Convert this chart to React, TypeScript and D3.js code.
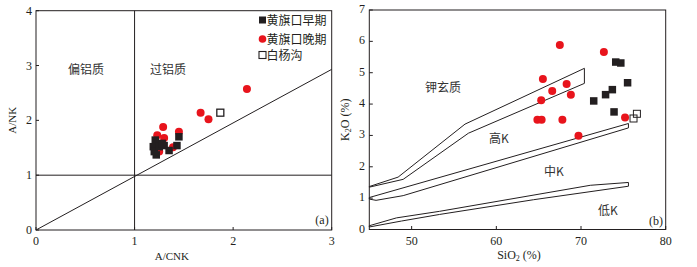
import React from "react";
import * as d3 from "d3";

// ---------- Panel (a) data ----------
const aEarly: [number, number][] = [
  [1.45, 1.7], [1.43, 1.54], [1.35, 1.45], [1.3, 1.54], [1.22, 1.37],
  [1.19, 1.52], [1.2, 1.43], [1.21, 1.64], [1.25, 1.52], [1.28, 1.58],
];
const aLate: [number, number][] = [
  [2.14, 2.57], [1.67, 2.14], [1.75, 2.02], [1.29, 1.88], [1.23, 1.73],
  [1.3, 1.68], [1.45, 1.79], [1.39, 1.51], [1.25, 1.43],
];
const aBai: [number, number][] = [[1.87, 2.14]];
const aDiagonal: [number, number][] = [[0, 0], [3, 2.93]];
const aXTicks = [0, 1, 2, 3];
const aYTicks = [0, 1, 2, 3, 4];

// ---------- Panel (b) data ----------
const bLate: [number, number][] = [
  [67.5, 5.88], [72.7, 5.66], [65.5, 4.8], [68.3, 4.64], [66.6, 4.42],
  [68.8, 4.3], [65.3, 4.12], [64.85, 3.5], [65.35, 3.5], [67.8, 3.5],
  [75.2, 3.57], [69.7, 2.99],
];
const bEarly: [number, number][] = [
  [74.1, 5.34], [74.7, 5.31], [75.5, 4.68], [73.7, 4.46], [72.9, 4.3],
  [71.5, 4.1], [73.9, 3.75],
];
const bBai: [number, number][] = [[76.2, 3.54], [76.6, 3.69]];
const shoBand: [number, number][] = [
  [45, 1.37], [48.4, 1.67], [56.3, 3.36], [70.4, 5.14],
  [70.4, 4.66], [56.7, 3.07], [49, 1.6], [45, 1.35],
];
const highBand: [number, number][] = [
  [45, 1.02], [75.6, 3.38], [75.6, 3.24], [49, 1.08], [45.8, 0.93], [45, 0.97],
];
const lowBand: [number, number][] = [
  [45, 0.12], [48.2, 0.37], [53.3, 0.58], [71.1, 1.41], [75.6, 1.5],
  [75.6, 1.38], [64.4, 0.95], [53.3, 0.48], [48.8, 0.27], [45, 0.08],
];
const bXTicks = [50, 60, 70, 80];
const bYTicks = [0, 1, 2, 3, 4, 5, 6, 7];

const serif = "'Liberation Serif', 'DejaVu Serif', serif";
const cjk = "'Noto Sans CJK SC', sans-serif";
const ink = "#231f20";
const red = "#e8141c";

export default function App() {
  // Panel a scales
  const ax = d3.scaleLinear().domain([0, 3]).range([36, 331.7]);
  const ay = d3.scaleLinear().domain([0, 4]).range([230, 10.7]);
  // Panel b scales
  const bx = d3.scaleLinear().domain([45, 80]).range([369.3, 665.7]);
  const by = d3.scaleLinear().domain([0, 7]).range([229.5, 10]);

  const aLine = d3.line<[number, number]>().x((d) => ax(d[0])).y((d) => ay(d[1]));
  const bLine = d3.line<[number, number]>().x((d) => bx(d[0])).y((d) => by(d[1]));

  const sq = 7.5;
  const r = 4;

  return (
    <svg width={697} height={267} style={{ position: "absolute", left: 0, top: 0, background: "#fff" }}>
      {/* ================= Panel (a) ================= */}
      <g>
        <rect x={ax(0)} y={ay(4)} width={ax(3) - ax(0)} height={ay(0) - ay(4)} fill="none" stroke={ink} strokeWidth={1} />
        <line x1={ax(1)} x2={ax(1)} y1={ay(0)} y2={ay(4)} stroke={ink} strokeWidth={1} />
        <line x1={ax(0)} x2={ax(3)} y1={ay(1)} y2={ay(1)} stroke={ink} strokeWidth={1} />
        <path d={aLine(aDiagonal) || ""} fill="none" stroke={ink} strokeWidth={1} />
        {aXTicks.map((t) => (
          <g key={"ax" + t}>
            <line x1={ax(t)} x2={ax(t)} y1={ay(0)} y2={ay(0) - 3} stroke={ink} />
            <text x={ax(t)} y={245} textAnchor="middle" fontFamily={serif} fontSize={12} fill={ink}>{t}</text>
          </g>
        ))}
        {aYTicks.map((t) => (
          <g key={"ay" + t}>
            <line x1={ax(0)} x2={ax(0) + 3} y1={ay(t)} y2={ay(t)} stroke={ink} />
            <text x={32} y={ay(t) + 4} textAnchor="end" fontFamily={serif} fontSize={12} fill={ink}>{t}</text>
          </g>
        ))}
        <text x={ax(1.5) - 12} y={260} textAnchor="middle" fontFamily={serif} fontSize={11} fill={ink}>A/CNK</text>
        <text transform={`translate(16,${ay(2)}) rotate(-90)`} textAnchor="middle" fontFamily={serif} fontSize={11} fill={ink}>A/NK</text>
        <text x={86} y={74} textAnchor="middle" fontFamily={cjk} fontSize={12} fill="#333">偏铝质</text>
        <text x={168} y={74} textAnchor="middle" fontFamily={cjk} fontSize={12} fill="#333">过铝质</text>
        <text x={322} y={224} textAnchor="middle" fontFamily={serif} fontSize={12} fill={ink}>(a)</text>

        {aLate.map((d, i) => (
          <circle key={"al" + i} cx={ax(d[0])} cy={ay(d[1])} r={r} fill={red} />
        ))}
        {aEarly.map((d, i) => (
          <rect key={"ae" + i} x={ax(d[0]) - sq / 2} y={ay(d[1]) - sq / 2} width={sq} height={sq} fill={ink} />
        ))}
        {aBai.map((d, i) => (
          <rect key={"ab" + i} x={ax(d[0]) - 3.5} y={ay(d[1]) - 3.5} width={7} height={7} fill="#fff" stroke={ink} strokeWidth={1.3} />
        ))}

        {/* legend */}
        <rect x={259} y={16.5} width={7} height={7} fill={ink} />
        <text x={266.5} y={24.5} fontFamily={cjk} fontSize={12} fill={ink}>黄旗口早期</text>
        <circle cx={262.5} cy={39} r={3.8} fill={red} />
        <text x={266.5} y={43.5} fontFamily={cjk} fontSize={12} fill={ink}>黄旗口晚期</text>
        <rect x={259} y={51.5} width={7} height={7} fill="#fff" stroke={ink} strokeWidth={1.1} />
        <text x={266.5} y={59.5} fontFamily={cjk} fontSize={12} fill={ink}>白杨沟</text>
      </g>

      {/* ================= Panel (b) ================= */}
      <g>
        <rect x={bx(45)} y={by(7)} width={bx(80) - bx(45)} height={by(0) - by(7)} fill="none" stroke={ink} strokeWidth={1} />
        <path d={(bLine(shoBand) || "") + "Z"} fill="none" stroke={ink} strokeWidth={1} />
        <path d={(bLine(highBand) || "") + "Z"} fill="none" stroke={ink} strokeWidth={1} />
        <path d={(bLine(lowBand) || "") + "Z"} fill="none" stroke={ink} strokeWidth={1} />
        {bXTicks.map((t) => (
          <g key={"bx" + t}>
            <line x1={bx(t)} x2={bx(t)} y1={by(0)} y2={by(0) - 3.5} stroke={ink} />
            <text x={bx(t)} y={245} textAnchor="middle" fontFamily={serif} fontSize={12} fill={ink}>{t}</text>
          </g>
        ))}
        {bYTicks.map((t) => (
          <g key={"by" + t}>
            <line x1={bx(45)} x2={bx(45) + 3.5} y1={by(t)} y2={by(t)} stroke={ink} />
            <text x={365} y={by(t) + 3} textAnchor="end" fontFamily={serif} fontSize={12} fill={ink}>{t}</text>
          </g>
        ))}
        <text x={519} y={259} textAnchor="middle" fontFamily={serif} fontSize={12} fill={ink}>
          SiO<tspan fontSize={8} dy={2}>2</tspan><tspan dy={-2}> (%)</tspan>
        </text>
        <text transform={`translate(349,${by(3.5)}) rotate(-90)`} textAnchor="middle" fontFamily={serif} fontSize={12} fill={ink}>
          K<tspan fontSize={8} dy={2}>2</tspan><tspan dy={-2}>O (%)</tspan>
        </text>
        <text x={443} y={92} textAnchor="middle" fontFamily={cjk} fontSize={12} fill="#333">钾玄质</text>
        <text x={499} y={143} textAnchor="middle" fontFamily={cjk} fontSize={12} fill="#333">高K</text>
        <text x={554} y={176} textAnchor="middle" fontFamily={cjk} fontSize={12} fill="#333">中K</text>
        <text x={608} y={215} textAnchor="middle" fontFamily={cjk} fontSize={12} fill="#333">低K</text>
        <text x={656} y={225} textAnchor="middle" fontFamily={serif} fontSize={12} fill={ink}>(b)</text>

        {bLate.map((d, i) => (
          <circle key={"bl" + i} cx={bx(d[0])} cy={by(d[1])} r={r} fill={red} />
        ))}
        {bEarly.map((d, i) => (
          <rect key={"be" + i} x={bx(d[0]) - sq / 2} y={by(d[1]) - sq / 2} width={sq} height={sq} fill={ink} />
        ))}
        {bBai.map((d, i) => (
          <rect key={"bb" + i} x={bx(d[0]) - 3.5} y={by(d[1]) - 3.5} width={7} height={7} fill="none" stroke={ink} strokeWidth={1} />
        ))}
      </g>
    </svg>
  );
}
